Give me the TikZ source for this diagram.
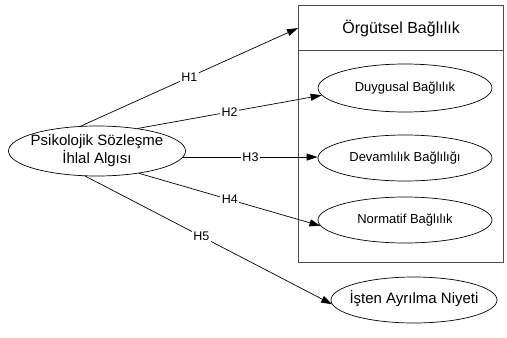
\documentclass[tikz,border=0pt]{standalone}
\usepackage{fontspec}
\setmainfont{Liberation Sans}
\usetikzlibrary{shapes.geometric,arrows.meta}
\newcommand{\zw}[1]{\makebox[0pt]{\begin{tabular}{@{}c@{}}#1\end{tabular}}}
\begin{document}
\begin{tikzpicture}[x=1pt,y=-1pt,
  ell/.style={draw,ellipse,line width=0.7pt,inner sep=0pt},
  frame/.style={draw=black!70,line width=1.2pt,inner sep=0pt,anchor=north west,minimum width=205pt},
  conn/.style={line width=0.7pt,-{Triangle[length=11pt,width=7pt]}},
  lab/.style={fill=white,inner sep=1.5pt,font=\fontsize{12.5}{14}\selectfont}
]
\useasboundingbox (0,0) rectangle (507,338);
\node[frame,minimum height=257pt] (B) at (298,5) {};
\node[frame,minimum height=45pt,font=\fontsize{16}{19}\selectfont] (O) at (298,5) {Örgütsel Bağlılık};
\node[ell,minimum width=177pt,minimum height=50pt,font=\fontsize{15}{17}\selectfont] (L) at (97,151) {\zw{Psikolojik Sözleşme\\İhlal Algısı}};
\node[ell,minimum width=174pt,minimum height=48pt,font=\fontsize{13}{15}\selectfont] (D1) at (405,88) {\zw{Duygusal Bağlılık}};
\node[ell,minimum width=174pt,minimum height=46pt,font=\fontsize{13}{15}\selectfont] (D2) at (405,158) {\zw{Devamlılık Bağlılığı}};
\node[ell,minimum width=174pt,minimum height=46pt,font=\fontsize{13}{15}\selectfont] (D3) at (405,220) {\zw{Normatif Bağlılık}};
\node[ell,minimum width=166pt,minimum height=46pt,font=\fontsize{15}{18}\selectfont] (I) at (414,300) {\zw{İşten Ayrılma Niyeti}};
\draw[conn] (L.123) -- node[lab]{H1} (O.west);
\draw[conn] (L.29) -- node[lab]{H2} (D1.185);
\draw[conn] (L.-4) -- node[lab]{H3} (L.-4 -| D2.west);
\draw[conn] (L.-28) -- node[lab]{H4} (D3.184);
\draw[conn] (L.-115) -- node[lab,pos=0.47]{H5} (I.183);
\end{tikzpicture}
\end{document}
